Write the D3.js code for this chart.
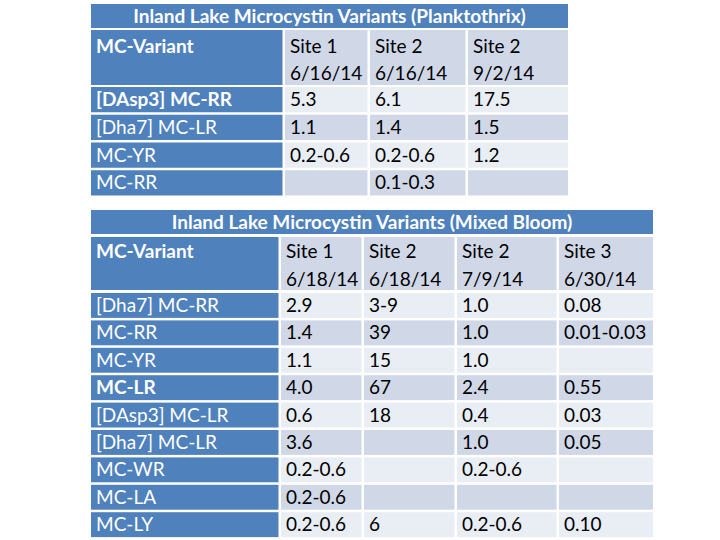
<!DOCTYPE html>
<html><head><meta charset="utf-8">
<script src="https://cdn.jsdelivr.net/npm/d3@7"></script>
<style>body{margin:0;background:#fff}svg{display:block}</style>
</head><body>
<svg id="chart" width="720" height="540"></svg>
<script>
// ---- data: table 1 ----
const t1Title = "Inland Lake Microcystin Variants (Planktothrix)";
const t1Head1 = ["MC-Variant", "Site 1", "Site 2", "Site 2"];
const t1Head2 = ["", "6/16/14", "6/16/14", "9/2/14"];
const t1Variants = ["[DAsp3] MC-RR", "[Dha7] MC-LR", "MC-YR", "MC-RR"];
const t1Bold = ["[DAsp3] MC-RR"];
const t1Site1 = ["5.3", "1.1", "0.2-0.6", ""];
const t1Site2a = ["6.1", "1.4", "0.2-0.6", "0.1-0.3"];
const t1Site2b = ["17.5", "1.5", "1.2", ""];

// ---- data: table 2 ----
const t2Title = "Inland Lake Microcystin Variants (Mixed Bloom)";
const t2Head1 = ["MC-Variant", "Site 1", "Site 2", "Site 2", "Site 3"];
const t2Head2 = ["", "6/18/14", "6/18/14", "7/9/14", "6/30/14"];
const t2Variants = ["[Dha7] MC-RR", "MC-RR", "MC-YR", "MC-LR", "[DAsp3] MC-LR", "[Dha7] MC-LR", "MC-WR", "MC-LA", "MC-LY"];
const t2Bold = ["MC-LR"];
const t2Site1 = ["2.9", "1.4", "1.1", "4.0", "0.6", "3.6", "0.2-0.6", "0.2-0.6", "0.2-0.6"];
const t2Site2a = ["3-9", "39", "15", "67", "18", "", "", "", "6"];
const t2Site2b = ["1.0", "1.0", "1.0", "2.4", "0.4", "1.0", "0.2-0.6", "", "0.2-0.6"];
const t2Site3 = ["0.08", "0.01-0.03", "", "0.55", "0.03", "0.05", "", "", "0.10"];

// ---- style ----
const BLUE = "#4f81bd", DARK = "#d0d8e8", LIGHT = "#e9edf4";
const FONT = "Lato, 'Open Sans', sans-serif";
const FS = 19;

const svg = d3.select("#chart");

function drawTable(cfg) {
  const g = svg.append("g");
  const cols = d3.range(cfg.colWidths.length);
  const edges = [0];
  cfg.colWidths.forEach(w => edges.push(edges[edges.length - 1] + w));
  const xs = d3.scaleLinear().domain([0, edges[edges.length - 1]]).range([cfg.x0, cfg.x0 + edges[edges.length - 1]]);
  const gap = cfg.gap;
  const colX = i => xs(edges[i]);
  const colW = i => xs(edges[i + 1]) - xs(edges[i]) - (i < cols.length - 1 ? gap : 0);
  const left = xs(0), right = xs(edges[edges.length - 1]);

  // title
  g.append("rect").attr("x", left).attr("y", cfg.titleY).attr("width", right - left).attr("height", cfg.titleH).attr("fill", BLUE);
  g.append("text").attr("x", (left + right) / 2).attr("y", cfg.titleY + cfg.titleH - 5)
    .attr("text-anchor", "middle").attr("font-family", FONT).attr("font-weight", "bold")
    .attr("font-size", FS).attr("fill", "#fff").text(cfg.title);

  // header
  cols.forEach(i => {
    g.append("rect").attr("x", colX(i)).attr("y", cfg.headY).attr("width", colW(i)).attr("height", cfg.headH)
      .attr("fill", i === 0 ? BLUE : DARK);
    [cfg.head1[i], cfg.head2[i]].forEach((t, k) => {
      g.append("text").attr("x", colX(i) + 5).attr("y", cfg.headY + cfg.headBase + k * 27.5)
        .attr("font-family", FONT).attr("font-size", FS)
        .attr("font-weight", i === 0 ? "bold" : "normal")
        .attr("fill", i === 0 ? "#fff" : "#000").text(t);
    });
  });

  // rows
  const n = cfg.rows.length;
  const y = d3.scaleBand().domain(cfg.rows).range([cfg.rowY0, cfg.rowY0 + n * cfg.pitch - gap]).paddingInner(gap / cfg.pitch);
  cfg.rows.forEach((r, ri) => {
    const vals = [r].concat(cfg.series.map(s => s[ri]));
    cols.forEach(i => {
      g.append("rect").attr("x", colX(i)).attr("y", y(r)).attr("width", colW(i)).attr("height", y.bandwidth())
        .attr("fill", i === 0 ? BLUE : (ri % 2 === 0 ? LIGHT : DARK));
      g.append("text").attr("x", colX(i) + 5).attr("y", y(r) + 19)
        .attr("font-family", FONT).attr("font-size", FS)
        .attr("font-weight", i === 0 && cfg.bold.includes(r) ? "bold" : "normal")
        .attr("fill", i === 0 ? "#fff" : "#000").text(vals[i]);
    });
  });
}

drawTable({
  title: t1Title, head1: t1Head1, head2: t1Head2, rows: t1Variants, bold: t1Bold,
  series: [t1Site1, t1Site2a, t1Site2b],
  x0: 91, colWidths: [194, 85, 98, 100], gap: 2.5,
  titleY: 4, titleH: 24, headY: 30, headH: 55, headBase: 22.5,
  rowY0: 87, pitch: 27.75
});

drawTable({
  title: t2Title, head1: t2Head1, head2: t2Head2, rows: t2Variants, bold: t2Bold,
  series: [t2Site1, t2Site2a, t2Site2b, t2Site3],
  x0: 91, colWidths: [190, 83, 93, 102, 94], gap: 2.5,
  titleY: 210, titleH: 24, headY: 237, headH: 53, headBase: 21,
  rowY0: 293, pitch: 27.4
});
</script>
</body></html>
